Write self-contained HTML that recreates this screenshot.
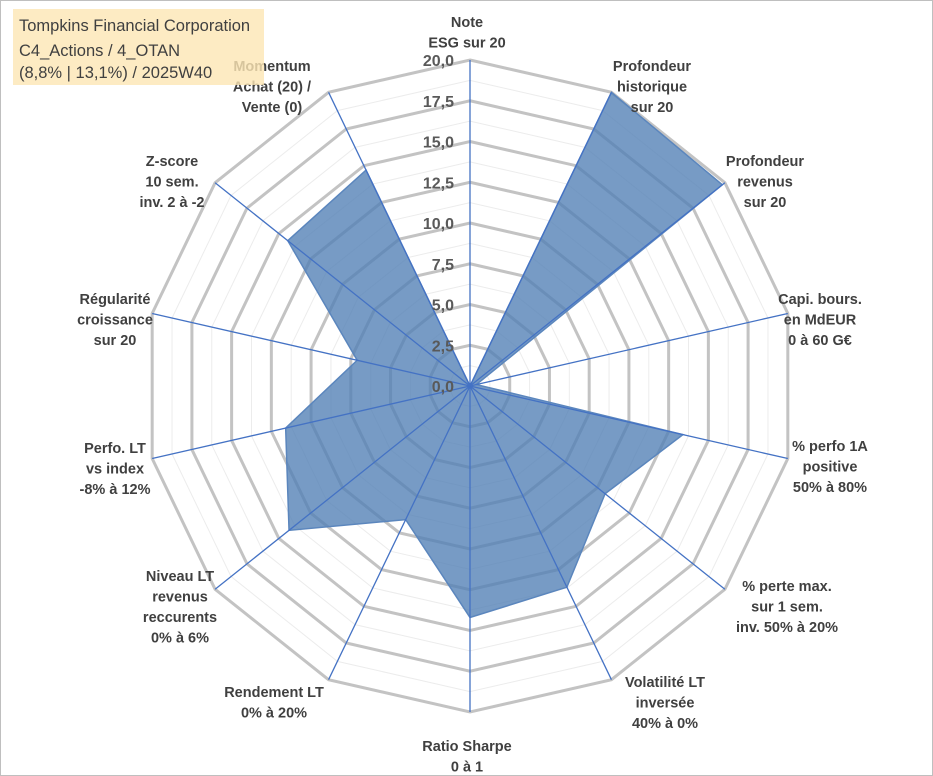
<!DOCTYPE html>
<html><head><meta charset="utf-8"><style>
body{margin:0;background:#fff}
#c{position:relative;width:933px;height:776px;overflow:hidden}
svg text{font-family:"Liberation Sans",sans-serif}
</style></head><body>
<div id="c">
<svg id="s" width="933" height="776" xmlns="http://www.w3.org/2000/svg">
<rect x="0.5" y="0.5" width="932" height="775" fill="#fff" stroke="#bfbfbf"/>
<g id="grid"></g><g id="series"></g><g id="axes"></g><g id="ticks"></g><g id="labels"></g>
<rect x="13" y="9" width="251" height="76" fill="#fde6b4" fill-opacity="0.8"/>
<g font-size="16.5" fill="#404040">
<text x="19" y="31">Tompkins Financial Corporation</text>
<text x="19" y="56">C4_Actions / 4_OTAN</text>
<text x="19" y="78">(8,8% | 13,1%) / 2025W40</text>
</g>
</svg></div>
<script>
const categories=[["Note","ESG sur 20"],["Profondeur","historique","sur 20"],["Profondeur","revenus","sur 20"],["Capi. bours.","en MdEUR","0 à 60 G€"],["% perfo 1A","positive","50% à 80%"],["% perte max.","sur 1 sem.","inv. 50% à 20%"],["Volatilité LT","inversée","40% à 0%"],["Ratio Sharpe","0 à 1"],["Rendement LT","0% à 20%"],["Niveau LT","revenus","reccurents","0% à 6%"],["Perfo. LT","vs index","-8% à 12%"],["Régularité","croissance","sur 20"],["Z-score","10 sem.","inv. 2 à -2"],["Momentum","Achat (20) /","Vente (0)"]];
const values=[0,20,19.8,0.4,13.4,10.6,13.7,14.2,9.1,14.2,11.6,7.1,14.3,14.7];
const tickLabels=["0,0","2,5","5,0","7,5","10,0","12,5","15,0","17,5","20,0"];
const labelPos=[[467,14],[652,58],[765,153],[820,291],[830,438],[787,578],[665,674],[467,738],[274,684],[180,568],[115,440],[115,291],[172,153],[272,58]];
const cx=470,cy=386,R=326,maxV=20,N=categories.length;
const NS="http://www.w3.org/2000/svg";
function ang(i){return i*2*Math.PI/N;}
function pt(i,v){const r=v/maxV*R;return [cx+r*Math.sin(ang(i)),cy-r*Math.cos(ang(i))];}
function mk(t,a,p){const e=document.createElementNS(NS,t);for(const k in a)e.setAttribute(k,a[k]);p.appendChild(e);return e;}
const grid=document.getElementById('grid');
for(let k=1;k<=16;k++){const v=k*1.25;const pts=[];for(let i=0;i<N;i++)pts.push(pt(i,v).join(','));
const major=k%2===0;
const g=mk('polygon',{points:pts.join(' '),fill:'none',stroke:major?'#c3c3c3':'#ececec','stroke-width':major?3:1},grid);

}
const ser=document.getElementById('series');
const sp=values.map((v,i)=>pt(i,v).join(',')).join(' ');
const poly=mk('polygon',{points:sp,fill:'#517fb5','fill-opacity':0.78,stroke:'#5b86bd','stroke-width':1.5},ser);


const ax=document.getElementById('axes');
for(let i=0;i<N;i++){const p=pt(i,maxV);const l=mk('line',{x1:cx,y1:cy,x2:p[0],y2:p[1],stroke:'#4472c4','stroke-width':1.3},ax);

}
const tk=document.getElementById('ticks');
tickLabels.forEach((t,k)=>{const y=cy-k*2.5/maxV*R;const e=mk('text',{x:cx-16,y:y+6,'text-anchor':'end','font-size':16,'font-weight':'bold',fill:'#595959'},tk);e.textContent=t;

});
const lb=document.getElementById('labels');
categories.forEach((lines,i)=>{const g=mk('text',{'text-anchor':'middle','font-size':14.5,'font-weight':'bold',fill:'#404040'},lb);


lines.forEach((s,j)=>{const t=mk('tspan',{x:labelPos[i][0],y:labelPos[i][1]+13+j*20.5},g);t.textContent=s;});});
</script>
</body></html>
